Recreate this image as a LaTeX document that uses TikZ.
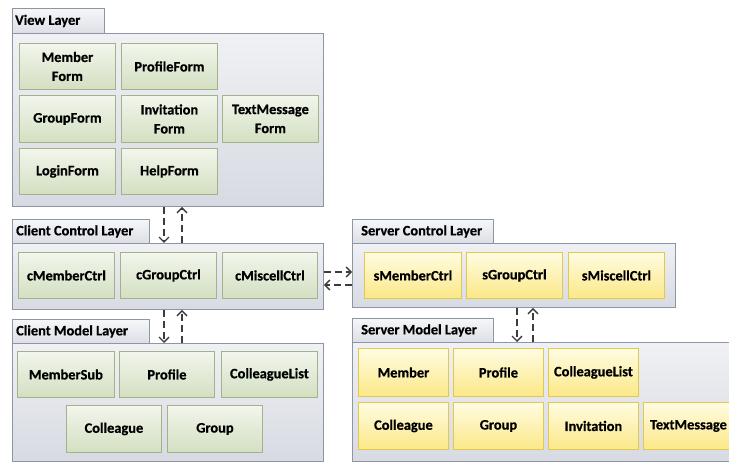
\documentclass[tikz,border=0pt]{standalone}
\usepackage{fontspec}
\setmainfont{Carlito}[BoldFeatures={FakeBold=0.6}]
\usetikzlibrary{arrows.meta}

\definecolor{layerline}{HTML}{8E96A4}
\definecolor{layertop}{HTML}{F0F1F4}
\definecolor{layerbot}{HTML}{D7DAE2}
\definecolor{greenline}{HTML}{A2B28B}
\definecolor{greentop}{HTML}{F2F6EC}
\definecolor{greenbot}{HTML}{D3DFC1}
\definecolor{yellowline}{HTML}{E2C84C}
\definecolor{yellowtop}{HTML}{FFFCE2}
\definecolor{yellowbot}{HTML}{FBE887}
\definecolor{arrowgray}{HTML}{3C3C3C}

\tikzset{
  txt/.style={font=\fontsize{14.4}{19}\selectfont\bfseries, text=black},
  layerbody/.style={draw=layerline, line width=0.9pt, top color=layertop,
    bottom color=layerbot, anchor=north west, inner sep=0pt},
  layertab/.style={draw=layerline, line width=0.9pt, top color=layertop!60!white,
    bottom color=layerbot!80!layertop, anchor=north west, inner sep=0pt},
  tabtitle/.style={txt, anchor=west, inner sep=0pt},
  gbox/.style={draw=greenline, line width=0.9pt, top color=greentop,
    bottom color=greenbot, anchor=north west, txt, align=center, inner sep=0pt},
  ybox/.style={draw=yellowline, line width=0.9pt, top color=yellowtop,
    bottom color=yellowbot, anchor=north west, txt, align=center, inner sep=0pt},
  conn/.style={draw=arrowgray, line width=1.6pt, dash pattern=on 7pt off 4pt,
    -{Straight Barb[length=5pt,width=10pt,line width=1.4pt]}},
}

\begin{document}
\begin{tikzpicture}[x=1pt, y=-1pt]
\clip (0,0) rectangle (729,462);
\fill[white] (0,0) rectangle (729,462);

% ---------------- View layer ----------------
\node[layertab, minimum width=92pt, minimum height=25pt] (vtab) at (12,8) {};
\node[tabtitle] (vtitle) at ([xshift=3pt]vtab.west) {View Layer};
\node[layerbody, minimum width=311pt, minimum height=173pt] (vbody) at (12,33) {};
\node[gbox, minimum width=96pt, minimum height=46pt] (mf)  at (19,43)  {Member\\Form};
\node[gbox, minimum width=96pt, minimum height=46pt] (pf)  at (121,43) {ProfileForm};
\node[gbox, minimum width=96pt, minimum height=47pt] (gf)  at (19,95)  {GroupForm};
\node[gbox, minimum width=96pt, minimum height=47pt] (inf) at (121,95) {Invitation\\Form};
\node[gbox, minimum width=96pt, minimum height=47pt] (tmf) at (222,95) {TextMessage\\Form};
\node[gbox, minimum width=96pt, minimum height=46pt] (lf)  at (19,148) {LoginForm};
\node[gbox, minimum width=96pt, minimum height=46pt] (hf)  at (121,148) {HelpForm};

% ---------------- Client control layer ----------------
\node[layertab, minimum width=137pt, minimum height=24pt] (cctab) at (12,219) {};
\node[tabtitle] (cctitle) at ([xshift=4pt]cctab.west) {Client Control Layer};
\node[layerbody, minimum width=311pt, minimum height=66pt] (ccbody) at (12,243) {};
\node[gbox, minimum width=96pt, minimum height=46pt] (cmc) at (18,252)  {cMemberCtrl};
\node[gbox, minimum width=96pt, minimum height=46pt] (cgc) at (120,252) {cGroupCtrl};
\node[gbox, minimum width=95pt, minimum height=46pt] (cxc) at (222,252) {cMiscellCtrl};

% ---------------- Client model layer ----------------
\node[layertab, minimum width=137pt, minimum height=24pt] (cmtab) at (12,319) {};
\node[tabtitle] (cmtitle) at ([xshift=4pt]cmtab.west) {Client Model Layer};
\node[layerbody, minimum width=311pt, minimum height=118pt] (cmbody) at (12,343) {};
\node[gbox, minimum width=97pt, minimum height=46pt] (cms) at (17,351)  {MemberSub};
\node[gbox, minimum width=95pt, minimum height=46pt] (cpr) at (119,351) {Profile};
\node[gbox, minimum width=96pt, minimum height=46pt] (ccl) at (221,351) {ColleagueList};
\node[gbox, minimum width=95pt, minimum height=47pt] (cco) at (66,405)  {Colleague};
\node[gbox, minimum width=95pt, minimum height=47pt] (cgr) at (167,405) {Group};

% ---------------- Server control layer ----------------
\node[layertab, minimum width=141pt, minimum height=24pt] (sctab) at (352,219) {};
\node[tabtitle] (sctitle) at ([xshift=9pt]sctab.west) {Server Control Layer};
\node[layerbody, minimum width=323pt, minimum height=64pt] (scbody) at (352,243) {};
\node[ybox, minimum width=97pt, minimum height=46pt] (smc) at (364,252) {sMemberCtrl};
\node[ybox, minimum width=96pt, minimum height=46pt] (sgc) at (466,252) {sGroupCtrl};
\node[ybox, minimum width=96pt, minimum height=46pt] (sxc) at (568,252) {sMiscellCtrl};

% ---------------- Server model layer ----------------
\node[layertab, minimum width=141pt, minimum height=24pt] (smtab) at (352,318) {};
\node[tabtitle] (smtitle) at ([xshift=9pt]smtab.west) {Server Model Layer};
\node[layerbody, minimum width=390pt, minimum height=119pt] (smbody) at (352,342) {};
\node[ybox, minimum width=90pt, minimum height=48pt] (sme) at (358,348) {Member};
\node[ybox, minimum width=90pt, minimum height=48pt] (spr) at (453,348) {Profile};
\node[ybox, minimum width=90pt, minimum height=48pt] (scl) at (548,348) {ColleagueList};
\node[ybox, minimum width=90pt, minimum height=47pt] (sco) at (358,402) {Colleague};
\node[ybox, minimum width=90pt, minimum height=47pt] (sgr) at (453,402) {Group};
\node[ybox, minimum width=90pt, minimum height=47pt] (sin) at (548,402) {Invitation};
\node[ybox, minimum width=90pt, minimum height=47pt] (stm) at (643,402) {TextMessage};

% ---------------- Connectors between layers ----------------
\coordinate (cdown) at (164,0);
\coordinate (cup)   at (182,0);
\coordinate (sdown) at (517,0);
\coordinate (sup)   at (533,0);
\coordinate (hout)  at (0,272);
\coordinate (hback) at (0,285);

\draw[conn] (cdown |- vbody.south) -- (cdown |- ccbody.north);
\draw[conn] (cup |- ccbody.north) -- (cup |- vbody.south);
\draw[conn] (cdown |- ccbody.south) -- (cdown |- cmbody.north);
\draw[conn] (cup |- cmbody.north) -- (cup |- ccbody.south);
\draw[conn] (ccbody.east |- hout) -- (scbody.west |- hout);
\draw[conn] (scbody.west |- hback) -- (ccbody.east |- hback);
\draw[conn] (sdown |- scbody.south) -- (sdown |- smbody.north);
\draw[conn] (sup |- smbody.north) -- (sup |- scbody.south);
\end{tikzpicture}
\end{document}
